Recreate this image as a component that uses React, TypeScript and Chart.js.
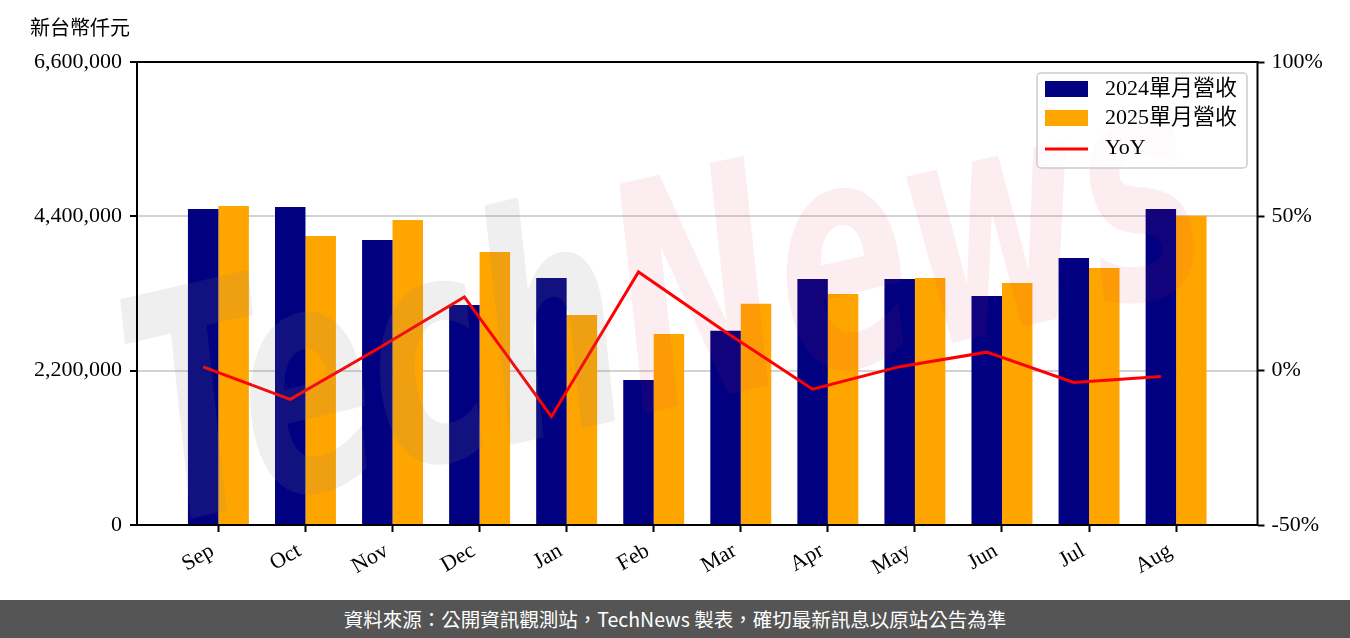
import React, { useEffect, useRef } from "react";
import { Chart, registerables } from "chart.js";

Chart.register(...registerables);

const months = ["Sep", "Oct", "Nov", "Dec", "Jan", "Feb", "Mar", "Apr", "May", "Jun", "Jul", "Aug"];
const revenue2024 = [4505000, 4533000, 4063000, 3136000, 3521000, 2067000, 2770000, 3507000, 3507000, 3264000, 3806000, 4505000];
const revenue2025 = [4547000, 4120000, 4348000, 3892000, 2994000, 2723000, 3155000, 3293000, 3521000, 3450000, 3664000, 4409000];
const yoyPct = [1.2, -9.3, 7.0, 23.9, -14.9, 32.0, 12.5, -6.0, 1.3, 6.0, -3.8, -1.9];
const leftTicks = [0, 2200000, 4400000, 6600000];
const rightTicks = [-50, 0, 50, 100];
const legendLabels = ["2024單月營收", "2025單月營收", "YoY"];

const NAVY = "#000080";
const ORANGE = "#FFA500";
const RED = "#FF0000";
const SERIF = '"Liberation Serif", "Noto Sans CJK TC", serif';

const watermarkPlugin = {
  id: "watermark",
  afterDatasetsDraw(chart: any) {
    const ctx = chart.ctx;
    ctx.save();
    ctx.translate(640, 415);
    ctx.rotate((-13 * Math.PI) / 180);
    ctx.scale(0.62, 1);
    ctx.font = 'italic bold 315px "DejaVu Sans"';
    ctx.textBaseline = "alphabetic";
    ctx.fillStyle = "rgba(128,128,128,0.13)";
    ctx.textAlign = "right";
    ctx.fillText("Tech", 0, 0);
    ctx.fillStyle = "rgba(220,40,60,0.08)";
    ctx.textAlign = "left";
    ctx.fillText("News", 0, 0);
    ctx.restore();
  },
};

const framePlugin = {
  id: "frameAndLegend",
  afterDraw(chart: any) {
    const ctx = chart.ctx;
    const a = chart.chartArea;
    ctx.save();
    ctx.strokeStyle = "#000";
    ctx.lineWidth = 2;
    ctx.strokeRect(a.left, a.top, a.right - a.left, a.bottom - a.top);

    // legend
    ctx.beginPath();
    ctx.roundRect(1037, 73, 210, 95, 4);
    ctx.fillStyle = "rgba(255,255,255,0.8)";
    ctx.fill();
    ctx.strokeStyle = "#cccccc";
    ctx.lineWidth = 1.5;
    ctx.stroke();

    ctx.fillStyle = NAVY;
    ctx.fillRect(1045, 81, 43, 16);
    ctx.fillStyle = ORANGE;
    ctx.fillRect(1045, 110, 43, 16);
    ctx.strokeStyle = RED;
    ctx.lineWidth = 3;
    ctx.beginPath();
    ctx.moveTo(1045, 149);
    ctx.lineTo(1088, 149);
    ctx.stroke();

    ctx.fillStyle = "#000";
    ctx.font = `22px ${SERIF}`;
    ctx.textBaseline = "middle";
    ctx.textAlign = "left";
    const ys = [89, 118, 148];
    legendLabels.forEach((t, i) => ctx.fillText(t, 1105, ys[i]));
    ctx.restore();
  },
};

export default function App() {
  const canvasRef = useRef<HTMLCanvasElement | null>(null);

  useEffect(() => {
    if (!canvasRef.current) return;
    const tickFont = { family: SERIF, size: 22 };
    const chart = new Chart(canvasRef.current, {
      type: "bar",
      data: {
        datasets: [
          {
            type: "line",
            label: legendLabels[2],
            data: yoyPct.map((v, i) => ({ x: i - 0.175, y: v })),
            yAxisID: "y1",
            xAxisID: "x",
            borderColor: RED,
            borderWidth: 3,
            pointRadius: 0,
            tension: 0,
            order: 0,
          } as any,
          {
            type: "bar",
            label: legendLabels[0],
            data: revenue2024.map((v, i) => ({ x: i, y: v })),
            backgroundColor: NAVY,
            yAxisID: "y",
            xAxisID: "x",
            categoryPercentage: 0.7,
            barPercentage: 1.0,
            order: 1,
          },
          {
            type: "bar",
            label: legendLabels[1],
            data: revenue2025.map((v, i) => ({ x: i, y: v })),
            backgroundColor: ORANGE,
            yAxisID: "y",
            xAxisID: "x",
            categoryPercentage: 0.7,
            barPercentage: 1.0,
            order: 1,
          },
        ],
      },
      options: {
        animation: false,
        responsive: false,
        maintainAspectRatio: false,
        layout: { padding: { top: 62, left: 0, right: 0, bottom: 0 } },
        plugins: { legend: { display: false }, tooltip: { enabled: false } },
        scales: {
          x: {
            type: "linear",
            offset: false,
            min: -0.935,
            max: 11.935,
            afterBuildTicks: (axis: any) => {
              axis.ticks = months.map((_, i) => ({ value: i }));
            },
            afterFit: (s: any) => {
              s.height = 75;
            },
            ticks: {
              callback: (_v: any, i: number) => months[i],
              font: tickFont,
              color: "#000",
              minRotation: 30,
              maxRotation: 30,
              autoSkip: false,
              padding: 6,
              labelOffset: -6,
            },
            grid: { offset: false, drawOnChartArea: false, drawTicks: true, tickLength: 7, tickColor: "#000", tickWidth: 2 },
            border: { display: false },
          },
          y: {
            position: "left",
            min: 0,
            max: 6600000,
            afterBuildTicks: (axis: any) => {
              axis.ticks = leftTicks.map((v) => ({ value: v }));
            },
            afterFit: (s: any) => {
              s.width = 137;
            },
            ticks: {
              callback: (v: any) => Number(v).toLocaleString("en-US"),
              font: tickFont,
              color: "#000",
              padding: 8,
            },
            grid: { color: "#d3d3d3", lineWidth: 2, tickColor: "#000", tickLength: 7, tickWidth: 2 },
            border: { display: false },
          },
          y1: {
            position: "right",
            min: -50,
            max: 100,
            afterBuildTicks: (axis: any) => {
              axis.ticks = rightTicks.map((v) => ({ value: v }));
            },
            afterFit: (s: any) => {
              s.width = 92.5;
            },
            ticks: {
              callback: (v: any) => `${v}%`,
              font: tickFont,
              color: "#000",
              padding: 7,
            },
            grid: { drawOnChartArea: false, tickColor: "#000", tickLength: 7, tickWidth: 2 },
            border: { display: false },
          },
        },
      },
      plugins: [watermarkPlugin, framePlugin],
    } as any);
    return () => chart.destroy();
  }, []);

  return (
    <div style={{ position: "fixed", left: 0, top: 0, width: 1350, height: 638, background: "#fff", overflow: "hidden" }}>
      <div
        style={{
          position: "absolute",
          left: 30,
          top: 14,
          fontFamily: '"Noto Sans CJK TC", sans-serif',
          fontSize: 20,
          lineHeight: "26px",
          color: "#000",
          zIndex: 2,
        }}
      >
        新台幣仟元
      </div>
      <canvas ref={canvasRef} width={1350} height={600} style={{ position: "absolute", left: 0, top: 0, width: 1350, height: 600 }} />
      <div
        style={{
          position: "absolute",
          left: 0,
          top: 600,
          width: 1350,
          height: 38,
          background: "#555555",
          color: "#fff",
          fontFamily: '"Noto Sans CJK TC", sans-serif',
          fontSize: 19.5,
          lineHeight: "38px",
          textAlign: "center",
        }}
      >
        資料來源：公開資訊觀測站，TechNews 製表，確切最新訊息以原站公告為準
      </div>
    </div>
  );
}
